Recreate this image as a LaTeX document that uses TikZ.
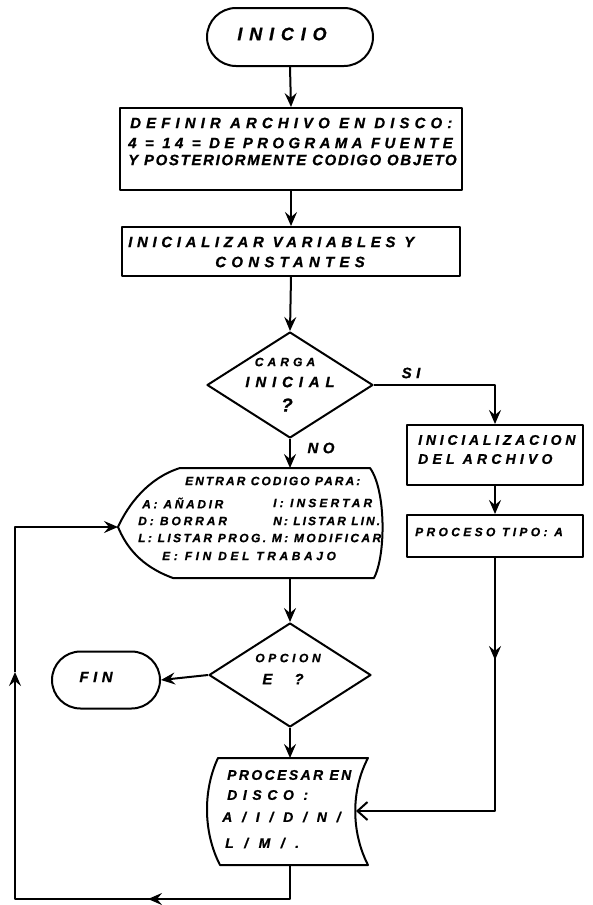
\documentclass[tikz,border=0pt]{standalone}
\usepackage{fontspec}
\setmainfont{Liberation Sans}
\newfontfamily\hwfont{Liberation Sans}
\usetikzlibrary{shapes.geometric,shapes.misc,arrows.meta}
\newcommand\hw[2]{\hwfont\bfseries\itshape\fontsize{#1}{#1}\selectfont\addfontfeature{LetterSpace=#2,FakeBold=0.8}}
\tikzset{
  every node/.style={inner sep=0pt},
  ln/.style={line width=2pt, line join=round},
  arr/.style={ln, -{Stealth[length=14pt,width=12pt,inset=5pt]}},
  openarr/.style={ln, -{Straight Barb[length=10pt,width=18pt]}},
  boxshape/.style={draw, ln, rectangle},
  termshape/.style={draw, ln, rounded rectangle},
  decshape/.style={draw, ln, diamond},
  tl/.style={anchor=west, font={\hw{15}{#1}}}, tl/.default=30,
  tm/.style={anchor=west, font={\hw{14}{#1}}}, tm/.default=30,
  tc/.style={anchor=center, font={\hw{15}{#1}}}, tc/.default=30,
  ts/.style={anchor=west, font={\hw{12}{#1}}}, ts/.default=24,
}
\begin{document}
\begin{tikzpicture}[x=1pt,y=-1pt]
\useasboundingbox (0,0) rectangle (593,905);
% shapes
\node[termshape, minimum width=166, minimum height=58] (start) at (290,37) {};
\node[boxshape, minimum width=342, minimum height=82] (b1) at (291,149) {};
\node[boxshape, minimum width=338, minimum height=49] (b2) at (291,251.5) {};
\node[decshape, minimum width=166, minimum height=106] (d1) at (290,385) {};
\node[boxshape, minimum width=176, minimum height=60] (b3) at (495,455) {};
\node[boxshape, minimum width=176, minimum height=42] (b4) at (495,536) {};
\node[decshape, minimum width=162, minimum height=104] (d2) at (290,675) {};
\node[termshape, minimum width=108, minimum height=57] (fin) at (106,680) {};
% display shape
\draw[ln] (180,468) -- (370,468) .. controls (386,490) and (386,555) .. (374,578)
  -- (173,578) .. controls (140,566) and (126,546) .. (118,527)
  .. controls (128,505) and (148,478) .. (180,468) -- cycle;
\coordinate (disp-n) at (290,468);
\coordinate (disp-s) at (290,578);
\coordinate (disp-w) at (118,527);
% stored data shape
\draw[ln] (218,758) -- (368,758) .. controls (351,790) and (351,832) .. (368,865)
  -- (220,865) .. controls (203,832) and (203,790) .. (218,758) -- cycle;
\coordinate (sto-n) at (290,758);
\coordinate (sto-s) at (290,865);
\coordinate (sto-e) at (356,811);
% helper coordinates
\coordinate (r-mid) at (495,660);
\coordinate (r-bot) at (495,811);
\coordinate (b-right) at (290,899);
\coordinate (b-mid) at (148,899);
\coordinate (b-left) at (15,899);
\coordinate (l-mid) at (15,672);
\coordinate (l-top) at (15,527);
% connectors
\draw[arr] (start.south) -- (b1.north);
\draw[arr] (b1.south) -- (b2.north);
\draw[arr] (b2.south) -- (d1.north);
\draw[arr] (d1.east) -| (b3.north);
\draw[arr] (d1.south) -- (disp-n);
\draw[arr] (b3.south) -- (b4.north);
\draw[arr] (b4.south) -- (r-mid);
\draw[openarr] (b4.south) -- (r-bot) -- (sto-e);
\draw[arr] (disp-s) -- (d2.north);
\draw[arr] (d2.west) -- (fin.east);
\draw[arr] (d2.south) -- (sto-n);
\draw[arr] (sto-s) -- (b-right) -- (b-mid);
\draw[arr] (b-right) -- (b-left) -- (l-mid);
\draw[arr] (l-mid) -- (l-top) -- (disp-w);
% texts
\node[anchor=center, font={\hw{18}{38}}] (t-ini) at (282,34) {INICIO};
\node[tl=34] (t-b1a) at (130,123) {DEFINIR ARCHIVO EN DISCO:};
\node[tl=29] (t-b1b) at (128,143) {4 = 14 = DE PROGRAMA FUENTE};
\node[tl=11] (t-b1c) at (128,160) {Y POSTERIORMENTE CODIGO OBJETO};
\node[tl=31] (t-b2a) at (128,242) {INICIALIZAR VARIABLES Y};
\node[tc=35] (t-b2b) at (290,262) {CONSTANTES};
\node[anchor=center, font={\hw{12}{34}}] (t-d1a) at (285,362) {CARGA};
\node[tc=39] (t-d1b) at (290,382) {INICIAL};
\node[anchor=center, font={\hw{19}{0}}] (t-d1c) at (287,405) {?};
\node[tc] (t-si) at (411,373) {SI};
\node[tc] (t-no) at (321,448) {NO};
\node[tm=27] (t-b3a) at (418,440) {INICIALIZACION};
\node[tm] (t-b3b) at (418,459) {DEL ARCHIVO};
\node[ts=28] (t-b4) at (415,532) {PROCESO TIPO: A};
\node[ts=17] (t-e0) at (185,481) {ENTRAR CODIGO PARA:};
\node[ts=22] (t-e1) at (142,503) {A: AÑADIR};
\node[ts=26] (t-e2) at (273,503) {I: INSERTAR};
\node[ts=24] (t-e3) at (138,521) {D: BORRAR};
\node[ts=17] (t-e4) at (273,521) {N: LISTAR LIN.};
\node[ts=20] (t-e5) at (138,538) {L: LISTAR PROG. M: MODIFICAR};
\node[ts=30] (t-e6) at (162,556) {E: FIN DEL TRABAJO};
\node[anchor=center, font={\hw{12}{30}}] (t-o1) at (288,658) {OPCION};
\node[tc] (t-o2) at (283,679) {E\hspace{22pt}?};
\node[tc] (t-fin) at (96,677) {FIN};
\node[tm=17] (t-p1) at (227,775) {PROCESAR EN};
\node[tm=40] (t-p2) at (227,795) {DISCO :};
\node[tm=70] (t-p3) at (222,817) {A/I/D/N/};
\node[tm=75] (t-p4) at (225,843) {L/M/.};
\end{tikzpicture}
\end{document}
